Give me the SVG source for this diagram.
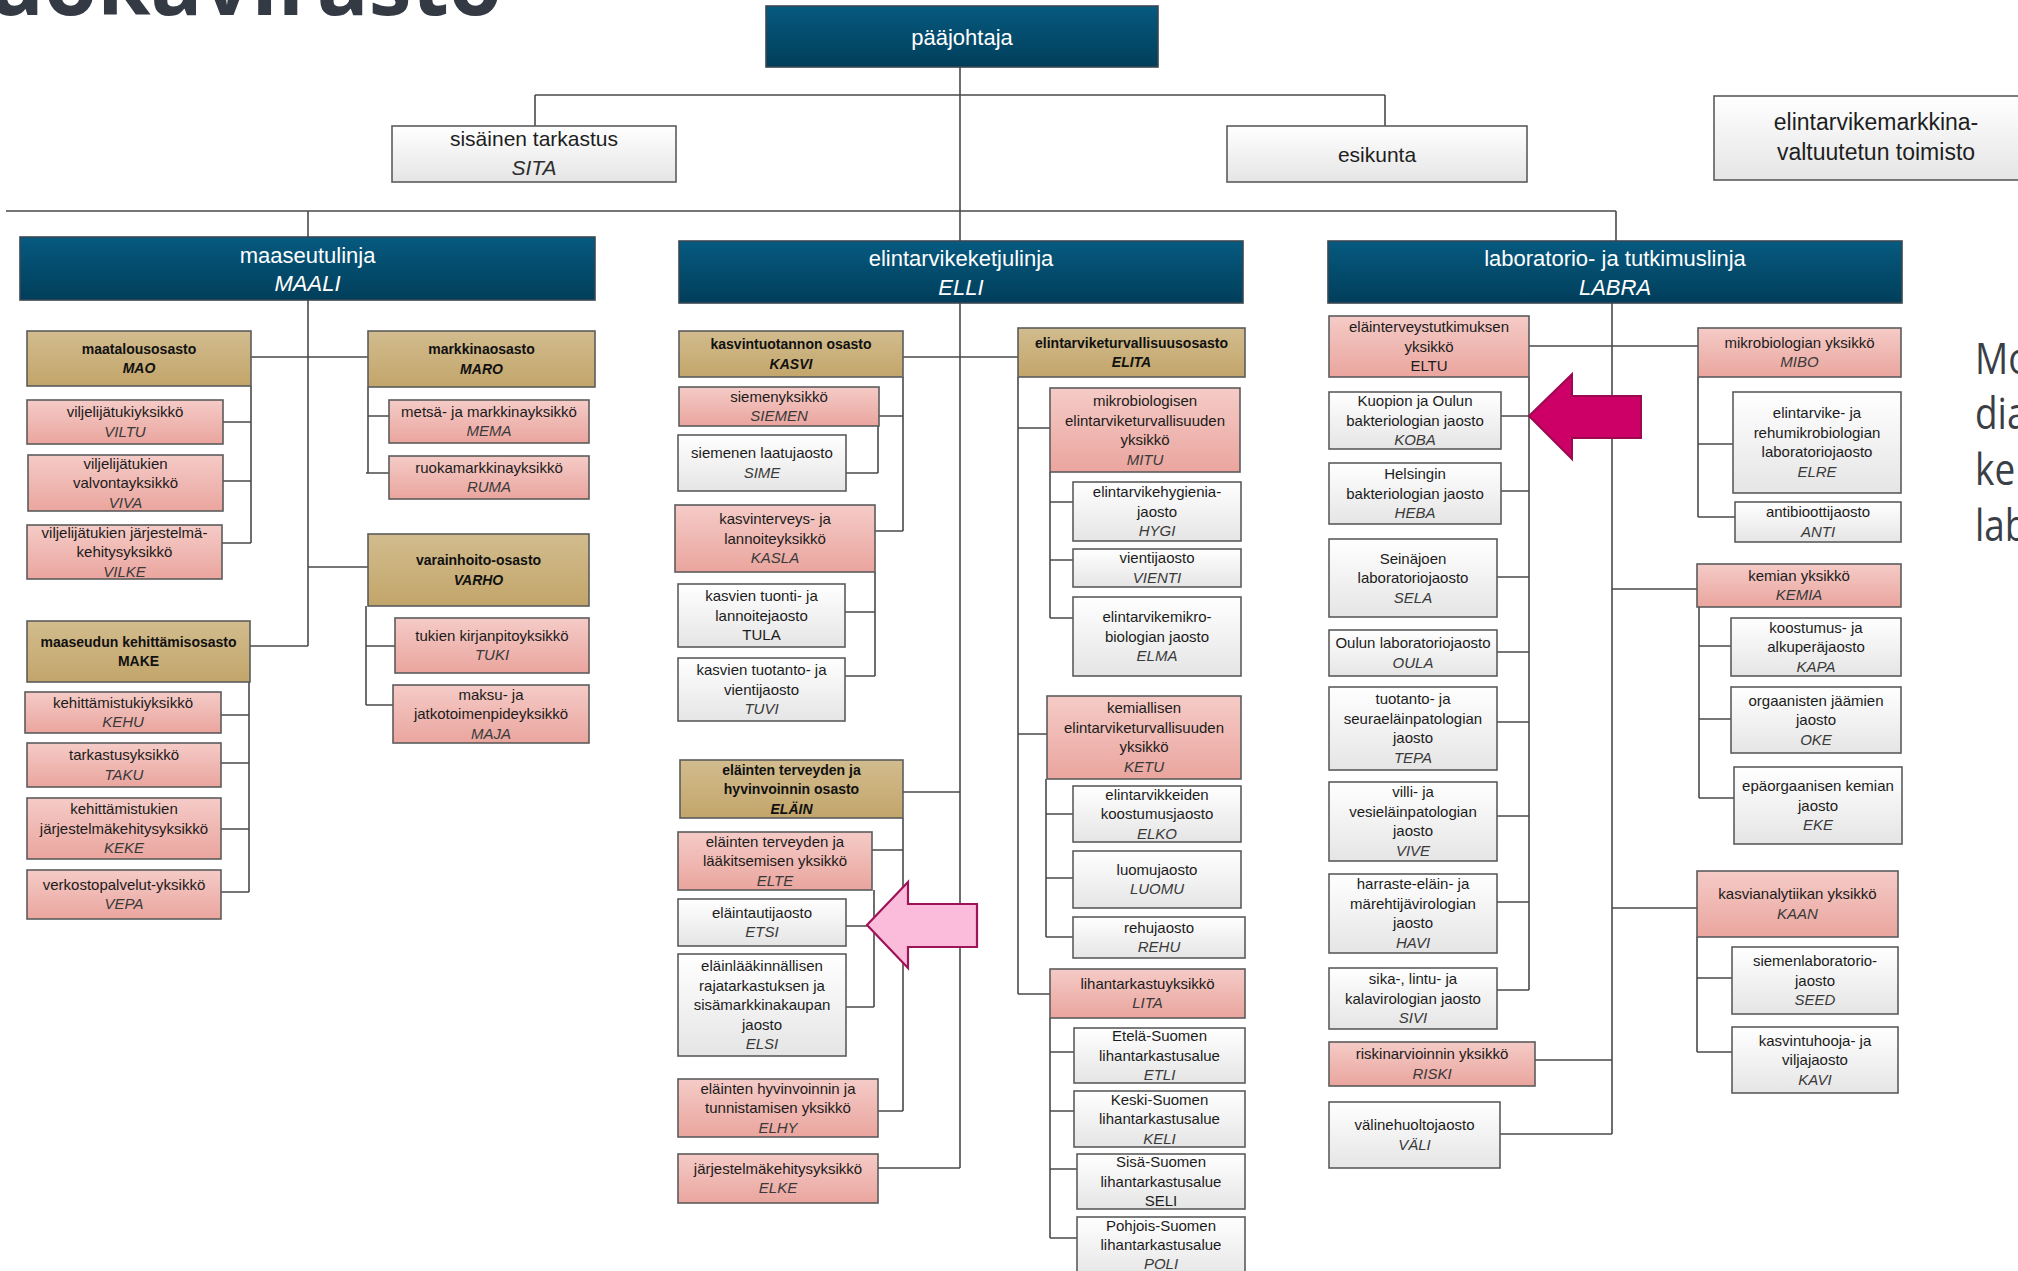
<svg xmlns="http://www.w3.org/2000/svg" width="2018" height="1271" viewBox="0 0 2018 1271">
<defs>
<linearGradient id="gH" x1="0" y1="0" x2="0" y2="1"><stop offset="0" stop-color="#065a80"/><stop offset="1" stop-color="#013e5a"/></linearGradient>
<linearGradient id="gD" x1="0" y1="0" x2="0" y2="1"><stop offset="0" stop-color="#d2bc8e"/><stop offset="1" stop-color="#c2a56a"/></linearGradient>
<linearGradient id="gU" x1="0" y1="0" x2="0" y2="1"><stop offset="0" stop-color="#f5cbc7"/><stop offset="1" stop-color="#eaa59e"/></linearGradient>
<linearGradient id="gJ" x1="0" y1="0" x2="0" y2="1"><stop offset="0" stop-color="#ffffff"/><stop offset="1" stop-color="#e5e5e5"/></linearGradient>
<style>
rect{stroke:#5c5c5c;stroke-width:1.6}
rect.bg{stroke:none;fill:#ffffff}
.hd{fill:url(#gH);stroke:#3a4752}
.dp{fill:url(#gD)}
.un{fill:url(#gU)}
.ja{fill:url(#gJ)}
text{font-family:"Liberation Sans",Arial,sans-serif;font-size:15px;fill:#1b1b1b;text-anchor:middle}
.i{font-style:italic;fill:#3a3a3a}
.b{font-weight:bold;font-size:14px;fill:#111}
.bi{font-weight:bold;font-style:italic;font-size:14px;fill:#111}
.h{font-size:22px;fill:#ffffff}
.hi{font-size:22px;fill:#ffffff;font-style:italic}
.top{font-size:21px;fill:#1e1e1e}
.topi{font-size:21px;fill:#2e2e2e;font-style:italic}
.side{font-family:"Open Sans","Liberation Sans",sans-serif;font-size:44px;fill:#3a3f47;text-anchor:start}
.title{font-family:"Open Sans","Liberation Sans",sans-serif;font-weight:bold;font-size:86px;fill:#333a44;text-anchor:end}
#connectors path{fill:none;stroke:#4a4a4a;stroke-width:1.6}
</style>
</defs>
<rect class="bg" x="0" y="0" width="2018" height="1271"/>
<text class="title" x="502" y="15">Ruokavirasto</text>
<g id="side-text">
<text class="side" transform="translate(1975 374) scale(0.84 1)" x="0" y="0">Mo</text>
<text class="side" transform="translate(1975 429) scale(0.84 1)" x="0" y="0">dia</text>
<text class="side" transform="translate(1975 485) scale(0.84 1)" x="0" y="0">ke</text>
<text class="side" transform="translate(1975 541) scale(0.84 1)" x="0" y="0">lab</text>
</g>
<g id="connectors">
<path d="M960 67V241M535 95H1385M535 95V126M1385 95V126M6 211H1616M308 211V237M1616 211V241"/>
<path d="M308 300V646M251 357H368M308 567H368M250 646H308"/>
<path d="M251 386V543M223 422H251M223 481H251M222 543H251"/>
<path d="M368 387V473M368 416H389M366 473H389"/>
<path d="M366 606V705M366 646H395M366 705H393"/>
<path d="M249 682V892M221 715H249M221 763H249M221 829H249M221 892H249"/>
<path d="M960 303V1168M903 357H1018M903 792H960M878 1168H960"/>
<path d="M903 377V531M879 416H903M875 531H903M878 426V473M846 473H878"/>
<path d="M875 572V676M845 612H875M845 676H875"/>
<path d="M903 818V1111M872 850H903M878 1111H903M874 890V1007M846 926H874M846 1007H874"/>
<path d="M1018 377V994M1018 428H1050M1018 734H1047M1018 994H1050"/>
<path d="M1050 472V618M1050 502H1073M1050 560H1073M1050 618H1073"/>
<path d="M1046 779V937M1046 814H1073M1046 878H1073M1046 937H1073"/>
<path d="M1050 1018V1238M1050 1052H1074M1050 1111H1074M1050 1169H1077M1050 1238H1077"/>
<path d="M1612 303V1134M1529 346H1698M1535 1060H1612M1500 1134H1612M1612 589H1697M1612 908H1697"/>
<path d="M1529 377V990M1501 416H1529M1501 491H1529M1497 577H1529M1497 652H1529M1497 722H1529M1497 816H1529M1497 902H1529M1497 990H1529"/>
<path d="M1698 377V517M1698 444H1733M1698 517H1735"/>
<path d="M1699 607V798M1699 646H1731M1699 719H1731M1699 798H1734"/>
<path d="M1697 937V1052M1697 978H1732M1697 1052H1732"/>
</g>
<g id="paajohtaja"><rect class="hd" x="766" y="6" width="392" height="61"/><text class="h" x="962" y="45">pääjohtaja</text></g>
<g id="sita"><rect class="ja" x="392" y="126" width="284" height="56"/><text class="top" x="534" y="146">sisäinen tarkastus</text><text class="topi" x="534" y="175">SITA</text></g>
<g id="esikunta"><rect class="ja" x="1227" y="126" width="300" height="56"/><text class="top" x="1377" y="162">esikunta</text></g>
<g id="eltm"><rect class="ja" x="1714" y="96" width="330" height="84"/><text class="top" x="1876" y="130" style="font-size:23px">elintarvikemarkkina-</text><text class="top" x="1876" y="160" style="font-size:23px">valtuutetun toimisto</text></g>
<g id="maali"><rect class="hd" x="20" y="237" width="575" height="63"/><text class="h" x="307.5" y="263">maaseutulinja</text><text class="hi" x="307.5" y="291">MAALI</text></g>
<g id="elli"><rect class="hd" x="679" y="241" width="564" height="62"/><text class="h" x="961" y="266">elintarvikeketjulinja</text><text class="hi" x="961" y="295">ELLI</text></g>
<g id="labra"><rect class="hd" x="1328" y="241" width="574" height="62"/><text class="h" x="1615" y="266">laboratorio- ja tutkimuslinja</text><text class="hi" x="1615" y="295">LABRA</text></g>

<g id="mao"><rect class="dp" x="27" y="331" width="224" height="55"/><text class="b" x="139" y="354">maatalousosasto</text><text class="bi" x="139" y="373">MAO</text></g>
<g id="maro"><rect class="dp" x="368" y="331" width="227" height="56"/><text class="b" x="481.5" y="354">markkinaosasto</text><text class="bi" x="481.5" y="374">MARO</text></g>
<g id="viltu"><rect class="un" x="27" y="400" width="196" height="44"/><text x="125" y="417">viljelijätukiyksikkö</text><text class="i" x="125" y="437">VILTU</text></g>
<g id="viva"><rect class="un" x="28" y="455" width="195" height="56"/><text x="125.5" y="468.5">viljelijätukien</text><text x="125.5" y="488">valvontayksikkö</text><text class="i" x="125.5" y="507.5">VIVA</text></g>
<g id="vilke"><rect class="un" x="27" y="525" width="195" height="54"/><text x="124.5" y="537.5">viljelijätukien järjestelmä-</text><text x="124.5" y="557">kehitysyksikkö</text><text class="i" x="124.5" y="576.5">VILKE</text></g>
<g id="mema"><rect class="un" x="389" y="400" width="200" height="43"/><text x="489" y="417">metsä- ja markkinayksikkö</text><text class="i" x="489" y="436">MEMA</text></g>
<g id="ruma"><rect class="un" x="389" y="456" width="200" height="43"/><text x="489" y="473">ruokamarkkinayksikkö</text><text class="i" x="489" y="492">RUMA</text></g>
<g id="varho"><rect class="dp" x="368" y="534" width="221" height="72"/><text class="b" x="478.5" y="565">varainhoito-osasto</text><text class="bi" x="478.5" y="585">VARHO</text></g>
<g id="tuki"><rect class="un" x="395" y="618" width="194" height="55"/><text x="492" y="641">tukien kirjanpitoyksikkö</text><text class="i" x="492" y="660">TUKI</text></g>
<g id="maja"><rect class="un" x="393" y="685" width="196" height="58"/><text x="491" y="699.5">maksu- ja</text><text x="491" y="719">jatkotoimenpideyksikkö</text><text class="i" x="491" y="738.5">MAJA</text></g>
<g id="make"><rect class="dp" x="27" y="621" width="223" height="61"/><text class="b" x="138.5" y="647">maaseudun kehittämisosasto</text><text class="b" x="138.5" y="666">MAKE</text></g>
<g id="kehu"><rect class="un" x="25" y="692" width="196" height="41"/><text x="123" y="708">kehittämistukiyksikkö</text><text class="i" x="123" y="727">KEHU</text></g>
<g id="taku"><rect class="un" x="27" y="743" width="194" height="44"/><text x="124" y="760">tarkastusyksikkö</text><text class="i" x="124" y="780">TAKU</text></g>
<g id="keke"><rect class="un" x="27" y="798" width="194" height="61"/><text x="124" y="814">kehittämistukien</text><text x="124" y="833.5">järjestelmäkehitysyksikkö</text><text class="i" x="124" y="853">KEKE</text></g>
<g id="vepa"><rect class="un" x="27" y="870" width="194" height="49"/><text x="124" y="890">verkostopalvelut-yksikkö</text><text class="i" x="124" y="909">VEPA</text></g>

<g id="kasvi"><rect class="dp" x="679" y="331" width="224" height="46"/><text class="b" x="791" y="349">kasvintuotannon osasto</text><text class="bi" x="791" y="369">KASVI</text></g>
<g id="elita"><rect class="dp" x="1018" y="328" width="227" height="49"/><text class="b" x="1131.5" y="348">elintarviketurvallisuusosasto</text><text class="bi" x="1131.5" y="367">ELITA</text></g>
<g id="siemen"><rect class="un" x="679" y="387" width="200" height="39"/><text x="779" y="402">siemenyksikkö</text><text class="i" x="779" y="421">SIEMEN</text></g>
<g id="sime"><rect class="ja" x="678" y="435" width="168" height="56"/><text x="762" y="458">siemenen laatujaosto</text><text class="i" x="762" y="478">SIME</text></g>
<g id="kasla"><rect class="un" x="675" y="505" width="200" height="67"/><text x="775" y="524">kasvinterveys- ja</text><text x="775" y="543.5">lannoiteyksikkö</text><text class="i" x="775" y="563">KASLA</text></g>
<g id="tula"><rect class="ja" x="678" y="584" width="167" height="63"/><text x="761.5" y="601">kasvien tuonti- ja</text><text x="761.5" y="620.5">lannoitejaosto</text><text x="761.5" y="640">TULA</text></g>
<g id="tuvi"><rect class="ja" x="678" y="658" width="167" height="63"/><text x="761.5" y="675">kasvien tuotanto- ja</text><text x="761.5" y="694.5">vientijaosto</text><text class="i" x="761.5" y="714">TUVI</text></g>
<g id="elain"><rect class="dp" x="680" y="760" width="223" height="58"/><text class="b" x="791.5" y="774.5">eläinten terveyden ja</text><text class="b" x="791.5" y="794">hyvinvoinnin osasto</text><text class="bi" x="791.5" y="813.5">ELÄIN</text></g>
<g id="elte"><rect class="un" x="678" y="832" width="194" height="58"/><text x="775" y="846.5">eläinten terveyden ja</text><text x="775" y="866">lääkitsemisen yksikkö</text><text class="i" x="775" y="885.5">ELTE</text></g>
<g id="etsi"><rect class="ja" x="678" y="899" width="168" height="47"/><text x="762" y="918">eläintautijaosto</text><text class="i" x="762" y="937">ETSI</text></g>
<g id="elsi"><rect class="ja" x="678" y="954" width="168" height="102"/><text x="762" y="971">eläinlääkinnällisen</text><text x="762" y="990.5">rajatarkastuksen ja</text><text x="762" y="1010">sisämarkkinakaupan</text><text x="762" y="1029.5">jaosto</text><text class="i" x="762" y="1049">ELSI</text></g>
<g id="elhy"><rect class="un" x="678" y="1079" width="200" height="58"/><text x="778" y="1093.5">eläinten hyvinvoinnin ja</text><text x="778" y="1113">tunnistamisen yksikkö</text><text class="i" x="778" y="1132.5">ELHY</text></g>
<g id="elke"><rect class="un" x="678" y="1154" width="200" height="49"/><text x="778" y="1174">järjestelmäkehitysyksikkö</text><text class="i" x="778" y="1193">ELKE</text></g>
<g id="mitu"><rect class="un" x="1050" y="388" width="190" height="84"/><text x="1145" y="406">mikrobiologisen</text><text x="1145" y="425.5">elintarviketurvallisuuden</text><text x="1145" y="445">yksikkö</text><text class="i" x="1145" y="464.5">MITU</text></g>
<g id="hygi"><rect class="ja" x="1073" y="482" width="168" height="59"/><text x="1157" y="497">elintarvikehygienia-</text><text x="1157" y="516.5">jaosto</text><text class="i" x="1157" y="536">HYGI</text></g>
<g id="vienti"><rect class="ja" x="1073" y="549" width="168" height="38"/><text x="1157" y="563">vientijaosto</text><text class="i" x="1157" y="583">VIENTI</text></g>
<g id="elma"><rect class="ja" x="1073" y="597" width="168" height="79"/><text x="1157" y="622">elintarvikemikro-</text><text x="1157" y="641.5">biologian jaosto</text><text class="i" x="1157" y="661">ELMA</text></g>
<g id="ketu"><rect class="un" x="1047" y="696" width="194" height="83"/><text x="1144" y="713">kemiallisen</text><text x="1144" y="733">elintarviketurvallisuuden</text><text x="1144" y="752">yksikkö</text><text class="i" x="1144" y="772">KETU</text></g>
<g id="elko"><rect class="ja" x="1073" y="786" width="168" height="56"/><text x="1157" y="799.5">elintarvikkeiden</text><text x="1157" y="819">koostumusjaosto</text><text class="i" x="1157" y="838.5">ELKO</text></g>
<g id="luomu"><rect class="ja" x="1073" y="851" width="168" height="57"/><text x="1157" y="875">luomujaosto</text><text class="i" x="1157" y="894">LUOMU</text></g>
<g id="rehu"><rect class="ja" x="1073" y="917" width="172" height="41"/><text x="1159" y="933">rehujaosto</text><text class="i" x="1159" y="952">REHU</text></g>
<g id="lita"><rect class="un" x="1050" y="969" width="195" height="49"/><text x="1147.5" y="989">lihantarkastuyksikkö</text><text class="i" x="1147.5" y="1008">LITA</text></g>
<g id="etli"><rect class="ja" x="1074" y="1028" width="171" height="55"/><text x="1159.5" y="1041">Etelä-Suomen</text><text x="1159.5" y="1060.5">lihantarkastusalue</text><text class="i" x="1159.5" y="1080">ETLI</text></g>
<g id="keli"><rect class="ja" x="1074" y="1091" width="171" height="56"/><text x="1159.5" y="1104.5">Keski-Suomen</text><text x="1159.5" y="1124">lihantarkastusalue</text><text class="i" x="1159.5" y="1143.5">KELI</text></g>
<g id="seli"><rect class="ja" x="1077" y="1154" width="168" height="55"/><text x="1161" y="1167">Sisä-Suomen</text><text x="1161" y="1186.5">lihantarkastusalue</text><text x="1161" y="1206">SELI</text></g>
<g id="poli"><rect class="ja" x="1077" y="1217" width="168" height="62"/><text x="1161" y="1231">Pohjois-Suomen</text><text x="1161" y="1250">lihantarkastusalue</text><text class="i" x="1161" y="1269">POLI</text></g>

<g id="eltu"><rect class="un" x="1329" y="316" width="200" height="61"/><text x="1429" y="332">eläinterveystutkimuksen</text><text x="1429" y="351.5">yksikkö</text><text x="1429" y="371">ELTU</text></g>
<g id="koba"><rect class="ja" x="1329" y="392" width="172" height="57"/><text x="1415" y="406">Kuopion ja Oulun</text><text x="1415" y="425.5">bakteriologian jaosto</text><text class="i" x="1415" y="445">KOBA</text></g>
<g id="heba"><rect class="ja" x="1329" y="463" width="172" height="61"/><text x="1415" y="479">Helsingin</text><text x="1415" y="498.5">bakteriologian jaosto</text><text class="i" x="1415" y="518">HEBA</text></g>
<g id="sela"><rect class="ja" x="1329" y="539" width="168" height="78"/><text x="1413" y="563.5">Seinäjoen</text><text x="1413" y="583">laboratoriojaosto</text><text class="i" x="1413" y="602.5">SELA</text></g>
<g id="oula"><rect class="ja" x="1329" y="630" width="168" height="46"/><text x="1413" y="648">Oulun laboratoriojaosto</text><text class="i" x="1413" y="668">OULA</text></g>
<g id="tepa"><rect class="ja" x="1329" y="687" width="168" height="83"/><text x="1413" y="704">tuotanto- ja</text><text x="1413" y="724">seuraeläinpatologian</text><text x="1413" y="743">jaosto</text><text class="i" x="1413" y="763">TEPA</text></g>
<g id="vive"><rect class="ja" x="1329" y="782" width="168" height="79"/><text x="1413" y="797">villi- ja</text><text x="1413" y="817">vesieläinpatologian</text><text x="1413" y="836">jaosto</text><text class="i" x="1413" y="856">VIVE</text></g>
<g id="havi"><rect class="ja" x="1329" y="874" width="168" height="79"/><text x="1413" y="889">harraste-eläin- ja</text><text x="1413" y="909">märehtijävirologian</text><text x="1413" y="928">jaosto</text><text class="i" x="1413" y="948">HAVI</text></g>
<g id="sivi"><rect class="ja" x="1329" y="968" width="168" height="61"/><text x="1413" y="984">sika-, lintu- ja</text><text x="1413" y="1003.5">kalavirologian jaosto</text><text class="i" x="1413" y="1023">SIVI</text></g>
<g id="riski"><rect class="un" x="1329" y="1042" width="206" height="44"/><text x="1432" y="1059">riskinarvioinnin yksikkö</text><text class="i" x="1432" y="1079">RISKI</text></g>
<g id="vali"><rect class="ja" x="1329" y="1102" width="171" height="66"/><text x="1414.5" y="1130">välinehuoltojaosto</text><text class="i" x="1414.5" y="1150">VÄLI</text></g>
<g id="mibo"><rect class="un" x="1698" y="328" width="203" height="49"/><text x="1799.5" y="348">mikrobiologian yksikkö</text><text class="i" x="1799.5" y="367">MIBO</text></g>
<g id="elre"><rect class="ja" x="1733" y="392" width="168" height="101"/><text x="1817" y="418">elintarvike- ja</text><text x="1817" y="438">rehumikrobiologian</text><text x="1817" y="457">laboratoriojaosto</text><text class="i" x="1817" y="477">ELRE</text></g>
<g id="anti"><rect class="ja" x="1735" y="502" width="166" height="40"/><text x="1818" y="517">antibioottijaosto</text><text class="i" x="1818" y="537">ANTI</text></g>
<g id="kemia"><rect class="un" x="1697" y="564" width="204" height="43"/><text x="1799" y="581">kemian yksikkö</text><text class="i" x="1799" y="600">KEMIA</text></g>
<g id="kapa"><rect class="ja" x="1731" y="618" width="170" height="58"/><text x="1816" y="632.5">koostumus- ja</text><text x="1816" y="652">alkuperäjaosto</text><text class="i" x="1816" y="671.5">KAPA</text></g>
<g id="oke"><rect class="ja" x="1731" y="687" width="170" height="66"/><text x="1816" y="705.5">orgaanisten jäämien</text><text x="1816" y="725">jaosto</text><text class="i" x="1816" y="744.5">OKE</text></g>
<g id="eke"><rect class="ja" x="1734" y="767" width="168" height="77"/><text x="1818" y="791">epäorgaanisen kemian</text><text x="1818" y="810.5">jaosto</text><text class="i" x="1818" y="830">EKE</text></g>
<g id="kaan"><rect class="un" x="1697" y="871" width="201" height="66"/><text x="1797.5" y="899">kasvianalytiikan yksikkö</text><text class="i" x="1797.5" y="919">KAAN</text></g>
<g id="seed"><rect class="ja" x="1732" y="947" width="166" height="67"/><text x="1815" y="966">siemenlaboratorio-</text><text x="1815" y="985.5">jaosto</text><text class="i" x="1815" y="1005">SEED</text></g>
<g id="kavi"><rect class="ja" x="1732" y="1027" width="166" height="66"/><text x="1815" y="1045.5">kasvintuhooja- ja</text><text x="1815" y="1065">viljajaosto</text><text class="i" x="1815" y="1084.5">KAVI</text></g>

<g id="arrow-pink"><polygon points="867,925 908,882 908,904 977,904 977,947 908,947 908,968" fill="#fbbcdc" stroke="#9e1458" stroke-width="2.2"/></g>
<g id="arrow-magenta"><polygon points="1529,416 1572,374 1572,396 1641,396 1641,438 1572,438 1572,459" fill="#cc0066" stroke="#9a0a50" stroke-width="2"/></g>
</svg>
